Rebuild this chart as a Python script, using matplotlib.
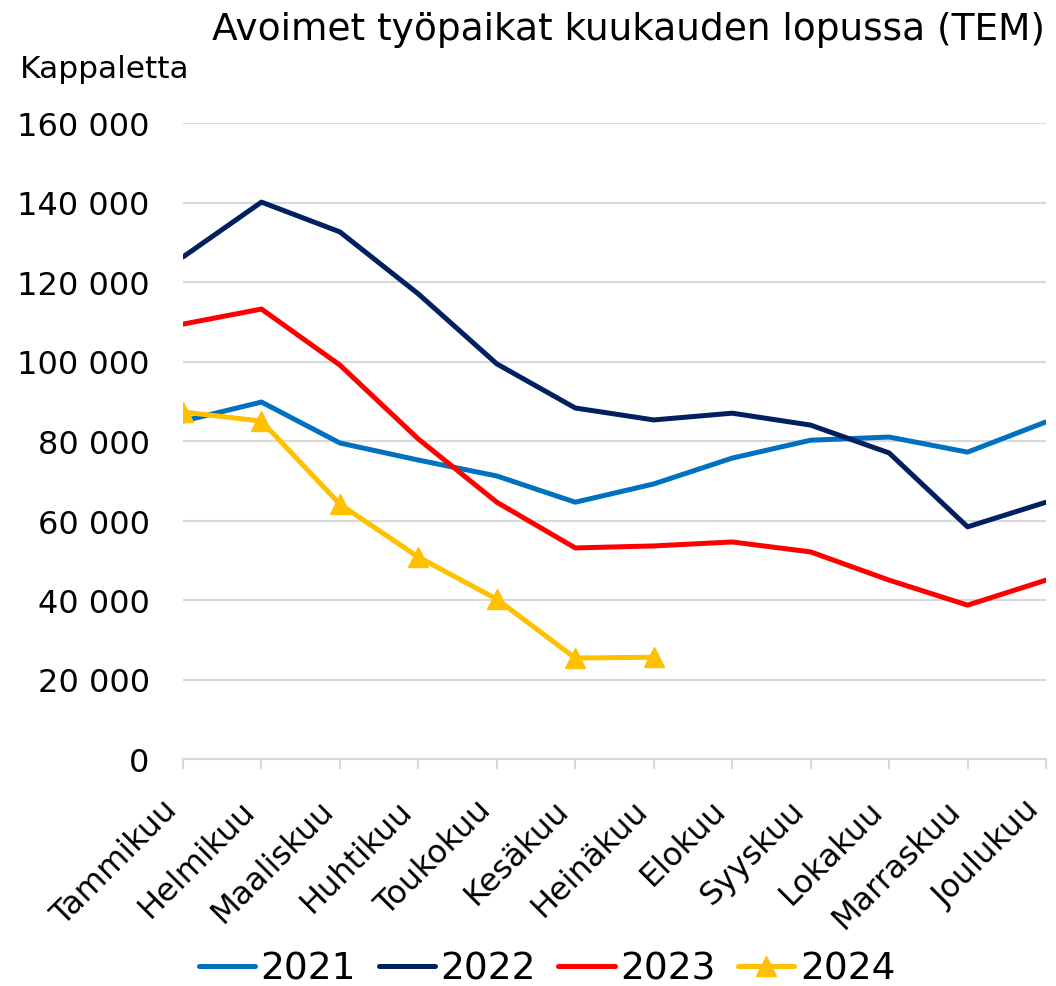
import matplotlib
matplotlib.use('Agg')
import matplotlib.pyplot as plt
import matplotlib.transforms as mtransforms
from matplotlib.ticker import FuncFormatter

# ── Data ─────────────────────────────────────────────────────────────────────
months = ['Tammikuu', 'Helmikuu', 'Maaliskuu', 'Huhtikuu', 'Toukokuu', 'Kesäkuu',
          'Heinäkuu', 'Elokuu', 'Syyskuu', 'Lokakuu', 'Marraskuu', 'Joulukuu']

v2021 = [85000, 89800, 79500, 75200, 71200, 64600, 69200, 75700, 80200, 81000, 77200, 84800]
v2022 = [126300, 140100, 132600, 117000, 99400, 88300, 85300, 87000, 84000, 77000, 58400, 64600]
v2023 = [109400, 113200, 99100, 80500, 64600, 53100, 53600, 54600, 52100, 45000, 38700, 45000]
v2024 = [87300, 85000, 64100, 50800, 40200, 25400, 25600]

yticks = [0, 20000, 40000, 60000, 80000, 100000, 120000, 140000, 160000]

COL = {'2021': '#0070C0', '2022': '#002060', '2023': '#FF0000', '2024': '#FFC000'}
GRID = '#D9D9D9'

fig = plt.figure(figsize=(10.56, 9.87), dpi=100)
ax = fig.add_axes([183 / 1056, 1 - 760 / 987, (1046 - 183) / 1056, (760 - 124) / 987])

x = list(range(len(months)))
lw = 3.6
ax.plot(x, v2021, color=COL['2021'], lw=lw, label='2021', solid_capstyle='round', zorder=3)
ax.plot(x, v2022, color=COL['2022'], lw=lw, label='2022', solid_capstyle='round', zorder=3)
ax.plot(x, v2023, color=COL['2023'], lw=lw, label='2023', solid_capstyle='round', zorder=3)
ax.plot(x[:len(v2024)], v2024, color=COL['2024'], lw=lw, label='2024', marker='^',
        markersize=14, solid_capstyle='round', zorder=4)

ax.set_xlim(0, 11)
ax.set_ylim(0, 160000)
ax.set_yticks(yticks)
ax.yaxis.set_major_formatter(FuncFormatter(lambda v, p: f'{int(v):,}'.replace(',', ' ')))
ax.set_xticks(x)
ax.set_xticklabels(months, rotation=45, ha='right', va='bottom', rotation_mode='anchor',
                   fontsize=23)
shift = mtransforms.ScaledTranslation(5 / 100, -2 / 100, fig.dpi_scale_trans)
for lab in ax.get_xticklabels():
    lab.set_transform(lab.get_transform() + shift)

ax.grid(axis='y', color=GRID, lw=1.5, zorder=0)
for side in ['top', 'right', 'left']:
    ax.spines[side].set_visible(False)
ax.spines['bottom'].set_color(GRID)
ax.spines['bottom'].set_linewidth(1.5)
ax.tick_params(axis='y', length=0, pad=24, labelsize=23)
ax.tick_params(axis='x', length=7, width=1.5, color=GRID, pad=34, direction='out')

fig.text(1045 / 1056, 1 - 30 / 987, 'Avoimet työpaikat kuukauden lopussa (TEM)',
         ha='right', va='center', fontsize=27)
fig.text(20 / 1056, 1 - 70 / 987, 'Kappaletta', ha='left', va='center', fontsize=22.5)

fig.legend(loc='center', bbox_to_anchor=(547 / 1056, 1 - 970 / 987), ncol=4, frameon=False,
           fontsize=27, handlelength=1.5, handletextpad=0.15, columnspacing=0.6)

fig.savefig('out.png', dpi=100)
